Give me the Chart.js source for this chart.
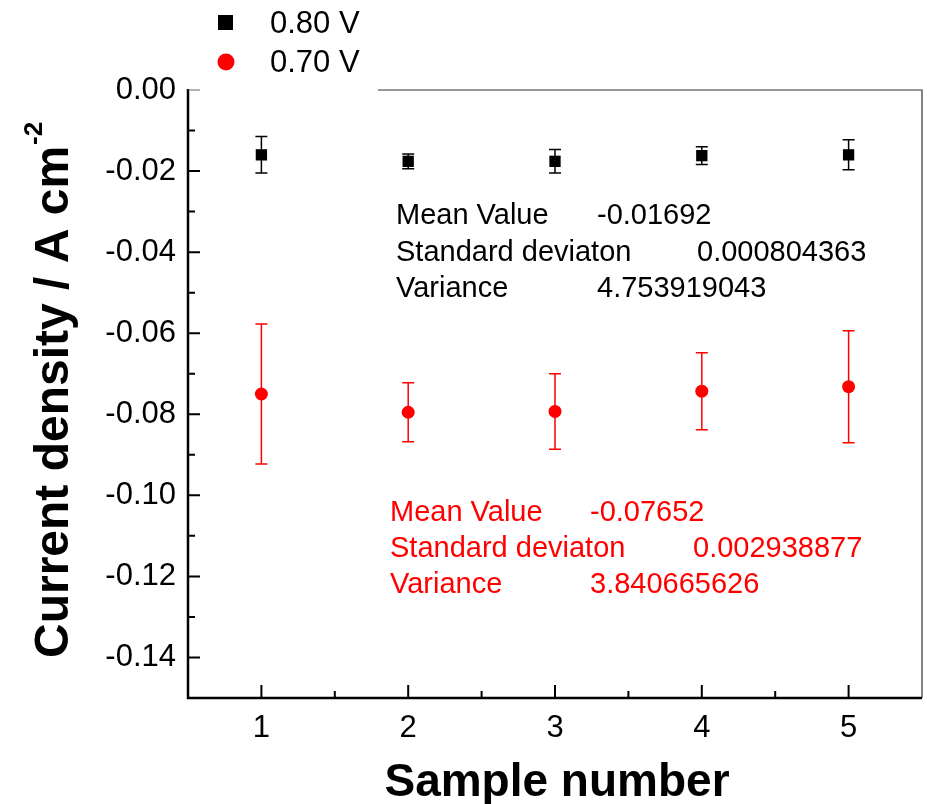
<!DOCTYPE html>
<html>
<head>
<meta charset="utf-8">
<script src="https://cdn.jsdelivr.net/npm/chart.js@4.4.1/dist/chart.umd.min.js"></script>
<style>
  html, body { margin: 0; padding: 0; background: #fff; }
  #wrap { width: 927px; height: 804px; position: relative; }
</style>
</head>
<body>
<div id="wrap"><canvas id="chart"></canvas></div>
<script>
// data
const sampleNumbers = [1, 2, 3, 4, 5];
const current080 = [-0.0160, -0.0176, -0.0176, -0.0162, -0.0160];
const error080 = [0.0045, 0.0018, 0.0029, 0.0022, 0.0037];
const current070 = [-0.0750, -0.0795, -0.0793, -0.0743, -0.0732];
const error070 = [0.0173, 0.0073, 0.0093, 0.0095, 0.0138];

const yTicks = [0, -0.02, -0.04, -0.06, -0.08, -0.10, -0.12, -0.14];
const yMinorTicks = [-0.01, -0.03, -0.05, -0.07, -0.09, -0.11, -0.13];
const xMinorTicks = [1.5, 2.5, 3.5, 4.5];

const statLabels = ['Mean Value', 'Standard deviaton', 'Variance'];
const stats080 = ['-0.01692', '0.000804363', '4.753919043'];
const stats070 = ['-0.07652', '0.002938877', '3.840665626'];

const FONT = '"Liberation Sans", Arial, sans-serif';
const RED = '#ff0000';

const toPoints = (ys) => sampleNumbers.map((x, i) => ({ x, y: ys[i] }));

// error bars under the markers
const errorBars = {
    id: 'errorBars',
    beforeDatasetsDraw(chart) {
        const { ctx } = chart;
        const xs = chart.scales.x, ys = chart.scales.y;
        const sets = [
            { vals: current080, errs: error080, color: '#000' },
            { vals: current070, errs: error070, color: RED },
        ];
        ctx.save();
        sets.forEach((s) => {
            ctx.strokeStyle = s.color;
            ctx.lineWidth = 1.5;
            sampleNumbers.forEach((n, i) => {
                const px = xs.getPixelForValue(n);
                const top = ys.getPixelForValue(s.vals[i] + s.errs[i]);
                const bot = ys.getPixelForValue(s.vals[i] - s.errs[i]);
                ctx.beginPath();
                ctx.moveTo(px, top); ctx.lineTo(px, bot);
                ctx.moveTo(px - 6, top); ctx.lineTo(px + 6, top);
                ctx.moveTo(px - 6, bot); ctx.lineTo(px + 6, bot);
                ctx.stroke();
            });
        });
        ctx.restore();
    },
};

// frame, inward ticks, x labels, titles, legend and stats text
const decorations = {
    id: 'decorations',
    afterDraw(chart) {
        const { ctx, chartArea: a } = chart;
        const xs = chart.scales.x, ys = chart.scales.y;
        ctx.save();

        // thin top/right frame (top partly hidden behind legend)
        ctx.strokeStyle = '#333';
        ctx.lineWidth = 1.2;
        ctx.beginPath();
        ctx.moveTo(378, a.top); ctx.lineTo(a.right, a.top); ctx.lineTo(a.right, a.bottom);
        ctx.stroke();

        // thick left and bottom axes
        ctx.strokeStyle = '#000';
        ctx.lineWidth = 2.5;
        ctx.beginPath();
        ctx.moveTo(a.left, a.top - 1); ctx.lineTo(a.left, a.bottom);
        ctx.lineTo(a.right, a.bottom);
        ctx.stroke();

        ctx.lineWidth = 2;
        ctx.beginPath();
        yTicks.forEach((v) => {
            if (v === 0) return;
            const py = ys.getPixelForValue(v);
            ctx.moveTo(a.left, py); ctx.lineTo(a.left + 12, py);
        });
        yMinorTicks.forEach((v) => {
            const py = ys.getPixelForValue(v);
            ctx.moveTo(a.left, py); ctx.lineTo(a.left + 7, py);
        });
        sampleNumbers.forEach((v) => {
            const px = xs.getPixelForValue(v);
            ctx.moveTo(px, a.bottom); ctx.lineTo(px, a.bottom - 13);
        });
        xMinorTicks.forEach((v) => {
            const px = xs.getPixelForValue(v);
            ctx.moveTo(px, a.bottom); ctx.lineTo(px, a.bottom - 7);
        });
        ctx.stroke();
        // tick at 0.00
        ctx.strokeStyle = '#666';
        ctx.lineWidth = 1;
        ctx.beginPath();
        ctx.moveTo(a.left, ys.getPixelForValue(0)); ctx.lineTo(a.left + 12, ys.getPixelForValue(0));
        ctx.stroke();

        // x tick labels
        ctx.fillStyle = '#000';
        ctx.font = '31px ' + FONT;
        ctx.textAlign = 'center';
        ctx.textBaseline = 'alphabetic';
        sampleNumbers.forEach((v) => {
            ctx.fillText(String(v), xs.getPixelForValue(v), 737);
        });

        // axis titles
        ctx.font = 'bold 46px ' + FONT;
        ctx.fillText('Sample number', 557, 796);

        ctx.save();
        ctx.translate(68, 658);
        ctx.rotate(-Math.PI / 2);
        ctx.textAlign = 'left';
        ctx.font = 'bold 48px ' + FONT;
        const main = 'Current density / A cm';
        ctx.fillText(main, 0, 0);
        const w = ctx.measureText(main).width;
        ctx.font = 'bold 26px ' + FONT;
        ctx.fillText('-2', w + 1, -26);
        ctx.restore();

        // legend
        const ds = chart.data.datasets;
        ctx.fillStyle = ds[0].backgroundColor;
        ctx.fillRect(218, 15, 15, 15);
        ctx.fillStyle = ds[1].backgroundColor;
        ctx.beginPath();
        ctx.arc(226, 62, 8.5, 0, Math.PI * 2);
        ctx.fill();
        ctx.fillStyle = '#000';
        ctx.font = '31px ' + FONT;
        ctx.textAlign = 'left';
        ctx.textBaseline = 'alphabetic';
        ctx.fillText(ds[0].label, 270, 33);
        ctx.fillText(ds[1].label, 270, 72);

        // statistics text
        ctx.font = '29px ' + FONT;
        ctx.textBaseline = 'middle';
        const blackValX = [597, 697, 597];
        const redValX = [590, 693, 590];
        statLabels.forEach((lab, i) => {
            ctx.fillStyle = '#000';
            ctx.fillText(lab, 396, 216 + i * 36.5);
            ctx.fillText(stats080[i], blackValX[i], 216 + i * 36.5);
            ctx.fillStyle = RED;
            ctx.fillText(lab, 390, 513 + i * 36);
            ctx.fillText(stats070[i], redValX[i], 513 + i * 36);
        });

        ctx.restore();
    },
};

new Chart(document.getElementById('chart'), {
    type: 'scatter',
    data: {
        datasets: [
            {
                label: '0.80 V',
                data: toPoints(current080),
                pointStyle: 'rect',
                pointRadius: 8,
                backgroundColor: '#000',
                borderColor: '#000',
                borderWidth: 0,
            },
            {
                label: '0.70 V',
                data: toPoints(current070),
                pointStyle: 'circle',
                pointRadius: 6.5,
                backgroundColor: RED,
                borderColor: RED,
                borderWidth: 0,
            },
        ],
    },
    options: {
        responsive: true,
        maintainAspectRatio: false,
        animation: false,
        layout: { autoPadding: false, padding: { top: 90, right: 5, left: 0, bottom: 0 } },
        plugins: { legend: { display: false }, tooltip: { enabled: false } },
        scales: {
            x: {
                type: 'linear',
                min: 0.5,
                max: 5.5,
                afterBuildTicks: (scale) => { scale.ticks = sampleNumbers.map((v) => ({ value: v })); },
                afterFit: (scale) => { scale.height = 106; },
                grid: { display: false },
                border: { display: false },
                ticks: { display: false },
            },
            y: {
                type: 'linear',
                min: -0.15,
                max: 0,
                afterBuildTicks: (scale) => { scale.ticks = yTicks.map((v) => ({ value: v })); },
                afterFit: (scale) => { scale.width = 188; },
                grid: { display: false },
                border: { display: false },
                ticks: {
                    color: '#000',
                    padding: 4,
                    font: { family: FONT, size: 31 },
                    callback: (v) => v.toFixed(2),
                },
            },
        },
    },
    plugins: [errorBars, decorations],
});
</script>
</body>
</html>
